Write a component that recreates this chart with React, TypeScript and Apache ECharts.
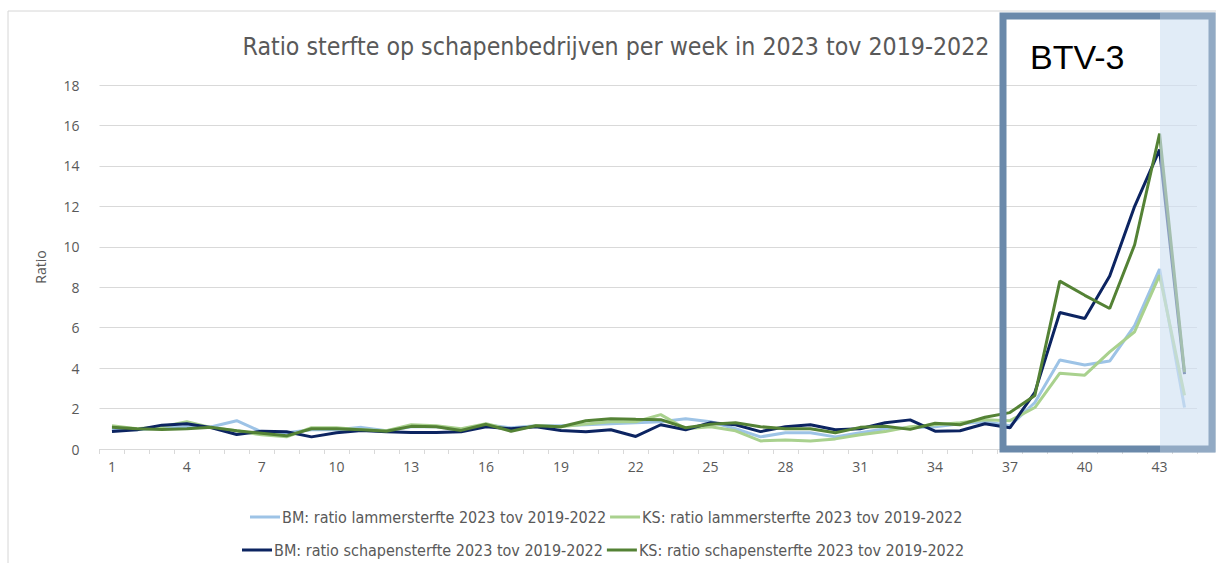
import React, { useEffect, useRef } from "react";
import * as echarts from "echarts";

const weeks: string[] = Array.from({ length: 44 }, (_, i) => String(i + 1));

const bmLammer = [1.0, 0.95, 1.05, 1.1, 1.1, 1.4, 0.85, 0.8, 0.95, 0.95, 1.07, 0.9, 1.1, 1.1, 0.95, 1.2, 1.05, 1.15, 1.15, 1.2, 1.25, 1.3, 1.35, 1.5, 1.35, 1.0, 0.6, 0.8, 0.8, 0.6, 0.8, 1.0, 1.05, 1.1, 1.25, 1.35, 1.15, 2.3, 4.4, 4.15, 4.35, 6.1, 8.9, 2.05];
const ksLammer = [1.15, 1.0, 1.1, 1.35, 1.05, 0.9, 0.7, 0.6, 1.05, 1.05, 0.95, 0.9, 1.2, 1.15, 1.0, 1.25, 0.95, 1.15, 1.1, 1.24, 1.35, 1.35, 1.7, 1.0, 1.1, 0.9, 0.4, 0.45, 0.4, 0.5, 0.7, 0.86, 1.1, 1.2, 1.3, 1.45, 1.4, 2.05, 3.75, 3.65, 4.8, 5.8, 8.6, 2.65];
const bmSchapen = [0.87, 0.95, 1.18, 1.25, 1.05, 0.72, 0.88, 0.85, 0.6, 0.8, 0.92, 0.85, 0.82, 0.82, 0.85, 1.1, 1.0, 1.1, 0.92, 0.85, 0.95, 0.62, 1.2, 0.95, 1.3, 1.2, 0.86, 1.1, 1.2, 0.95, 1.0, 1.3, 1.44, 0.88, 0.9, 1.25, 1.05, 2.8, 6.75, 6.45, 8.55, 12.0, 14.8, 3.7];
const ksSchapen = [1.07, 1.0, 0.97, 1.0, 1.07, 0.9, 0.78, 0.65, 1.0, 1.0, 0.95, 0.88, 1.12, 1.1, 0.92, 1.22, 0.88, 1.15, 1.1, 1.4, 1.5, 1.47, 1.45, 1.05, 1.22, 1.3, 1.1, 1.0, 1.0, 0.8, 1.07, 1.12, 0.97, 1.27, 1.2, 1.57, 1.8, 2.65, 8.3, 7.6, 6.95, 10.1, 15.6, 3.8];

const seriesNames = [
  "BM: ratio lammersterfte 2023 tov 2019-2022",
  "KS: ratio lammersterfte 2023 tov 2019-2022",
  "BM: ratio schapensterfte 2023 tov 2019-2022",
  "KS: ratio schapensterfte 2023 tov 2019-2022",
];
const seriesColors = ["#9DC3E6", "#A9D18E", "#0C2461", "#548235"];
const seriesData = [bmLammer, ksLammer, bmSchapen, ksSchapen];

const titleText = "Ratio sterfte op schapenbedrijven per week in 2023 tov 2019-2022";
const boxLabel = "BTV-3";

const NARROW = "'Liberation Sans Narrow', 'DejaVu Sans Condensed', sans-serif";

export default function App() {
  const ref = useRef<HTMLDivElement>(null);
  useEffect(() => {
    if (!ref.current) return;
    const chart = echarts.init(ref.current, undefined, { renderer: "svg" });
    chart.setOption({
      animation: false,
      backgroundColor: "#ffffff",
      title: {
        text: titleText,
        left: 611,
        top: 29,
        textAlign: "center",
        textStyle: { fontFamily: NARROW, fontSize: 24.7, fontWeight: "normal", color: "#595959" },
      },
      legend: [
        {
          data: [seriesNames[0], seriesNames[1]],
          left: 245,
          top: 504,
          icon: "rect",
          itemWidth: 30,
          itemHeight: 3,
          itemGap: 4,
          textStyle: { fontFamily: NARROW, fontSize: 16, color: "#595959", padding: [0, 0, 0, -3] },
        },
        {
          data: [seriesNames[2], seriesNames[3]],
          left: 237,
          top: 537,
          icon: "rect",
          itemWidth: 30,
          itemHeight: 3,
          itemGap: 4,
          textStyle: { fontFamily: NARROW, fontSize: 16, color: "#595959", padding: [0, 0, 0, -3] },
        },
      ],
      grid: { left: 99.5, right: 19, top: 85, bottom: 114, containLabel: false },
      xAxis: {
        type: "category",
        data: weeks,
        boundaryGap: true,
        axisLine: { lineStyle: { color: "#D9D9D9", width: 1 } },
        axisTick: { show: true, interval: 0, length: 5, lineStyle: { color: "#D9D9D9" } },
        axisLabel: { interval: 2, color: "#595959", fontSize: 14, fontFamily: "'Open Sans', sans-serif", margin: 10 },
        splitLine: { show: false },
      },
      yAxis: {
        type: "value",
        min: 0,
        max: 18,
        interval: 2,
        name: "Ratio",
        nameLocation: "middle",
        nameGap: 52,
        nameTextStyle: { color: "#595959", fontSize: 14, fontFamily: "'Open Sans', sans-serif" },
        axisLine: { show: false },
        axisTick: { show: false },
        axisLabel: { color: "#595959", fontSize: 14, fontFamily: "'Open Sans', sans-serif", margin: 20 },
        splitLine: { lineStyle: { color: "#D9D9D9", width: 1 } },
      },
      series: seriesNames.map((name, i) => ({
        name,
        type: "line",
        data: seriesData[i],
        showSymbol: false,
        symbol: "none",
        color: seriesColors[i],
        lineStyle: { width: 3, color: seriesColors[i] },
        z: 2 + i,
      })),
      graphic: [
        {
          type: "rect",
          z: 0,
          silent: true,
          shape: { x: 8, y: 11, width: 1220, height: 570 },
          style: { fill: "none", stroke: "#D6D6D6", lineWidth: 1 },
        },
        {
          type: "rect",
          z: 50,
          silent: true,
          shape: { x: 1160, y: 16, width: 52, height: 433 },
          style: { fill: "rgba(196,217,240,0.45)" },
        },
        {
          type: "rect",
          z: 60,
          silent: true,
          shape: { x: 1003, y: 16, width: 209, height: 433 },
          style: { fill: "none", stroke: "#6A89AA", lineWidth: 7 },
        },
        {
          type: "rect",
          z: 61,
          silent: true,
          shape: { x: 1160, y: 12.5, width: 55, height: 440 },
          style: { fill: "rgba(220,232,246,0.35)" },
        },
        {
          type: "text",
          z: 70,
          left: 1030,
          top: 40,
          style: { text: boxLabel, fontSize: 34, fontFamily: "'Liberation Sans', Arial, sans-serif", fill: "#000000" },
        },
      ],
    });
    return () => chart.dispose();
  }, []);
  return <div ref={ref} style={{ position: "fixed", left: 0, top: 0, width: 1216, height: 563 }} />;
}
